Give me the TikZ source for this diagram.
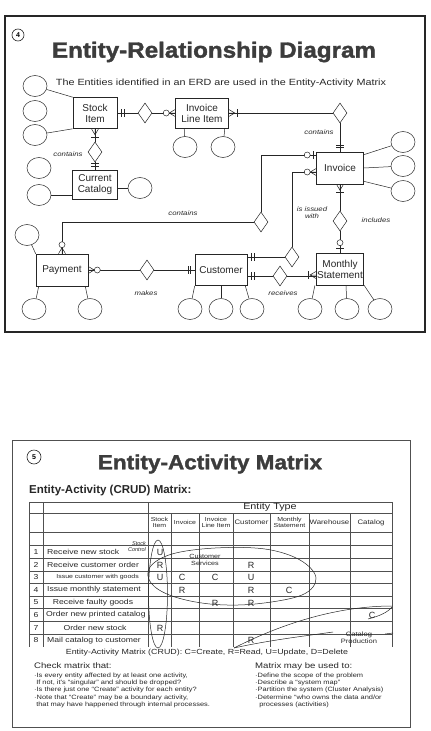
\documentclass[tikz,border=0pt]{standalone}
\usepackage{fontspec}
\setmainfont{Liberation Sans}
\newfontfamily\titlefont{Liberation Sans}[BoldFeatures={FakeStretch=1.1,FakeBold=1.6}]
\newfontfamily\widefont{Liberation Sans}[FakeStretch=1.2]
\usepackage{tikz}
\usetikzlibrary{
    arrows.meta,
    positioning,
    shapes.geometric,
    calc
}
\definecolor{inkc}{HTML}{262626}
\definecolor{gridc}{HTML}{505050}
\tikzset{
    crowfoot/.pic={\draw[line width=0.5pt, inkc] (0,-3.5) -- (6,0) -- (0,3.5) (0,0) -- (6,0);},
    onebar/.pic={\draw[line width=0.5pt, inkc] (0,-4) -- (0,4);},
    zerocirc/.pic={\draw[line width=0.5pt, inkc, fill=white] (0,0) circle (3);}
}

\begin{document}
\begin{tikzpicture}[x=1pt, y=-1pt,
    entity/.style={draw=inkc, line width=0.6pt, align=center, inner sep=1pt, text=inkc, font=\fontsize{10}{11}\selectfont},
    attr/.style={ellipse, draw=inkc, line width=0.5pt, minimum width=24pt, minimum height=21pt, inner sep=0pt},
    rel/.style={diamond, draw=inkc, line width=0.5pt, fill=white, minimum width=14pt, minimum height=20pt, inner sep=0pt},
    conn/.style={draw=inkc, line width=0.5pt},
    rlabel/.style={font=\widefont\fontsize{6.5}{7}\selectfont\itshape, text=inkc, align=center, inner sep=0pt},
    numc/.style={circle, draw=inkc, line width=0.6pt, inner sep=0pt, font=\fontsize{7}{7}\selectfont\bfseries},
    cell/.style={font=\fontsize{9}{9}\selectfont, text=inkc, inner sep=0pt},
    acttxt/.style={font=\widefont\fontsize{7.2}{8}\selectfont, text=inkc, inner sep=0pt},
    headtxt/.style={font=\widefont\fontsize{5.8}{6.5}\selectfont, text=inkc, align=center, inner sep=0pt},
    grid/.style={draw=gridc, line width=0.5pt},
    hand/.style={draw=inkc, line width=0.5pt},
    note/.style={font=\widefont\fontsize{6.2}{7.1}\selectfont, text=inkc, align=left, inner sep=0pt},
]
\useasboundingbox (0,0) rectangle (431,731);

    % ---- slide 4: ERD ----
    \draw[inkc, line width=1.8pt] (5,16) rectangle (425,332);
    \node[numc, minimum size=12pt] (n4) at (18,35) {4};
    \node[font=\titlefont\bfseries\fontsize{22}{22}\selectfont, text=inkc!90] (t4) at (214,52) {Entity-Relationship Diagram};
    \node[font=\widefont\fontsize{9}{9}\selectfont, text=inkc] (s4) at (221,83) {The Entities identified in an ERD are used in the Entity-Activity Matrix};

    % entities
    \node[entity, minimum width=44pt, minimum height=31pt] (si) at (95,113) {Stock\\Item};
    \node[entity, minimum width=53pt, minimum height=30pt] (ili) at (202,113) {Invoice\\Line Item};
    \node[entity, minimum width=47pt, minimum height=32pt] (inv) at (340,168) {Invoice};
    \node[entity, minimum width=45pt, minimum height=29pt] (cc) at (95,185) {Current\\Catalog};
    \node[entity, minimum width=52pt, minimum height=32pt] (pay) at (62,270) {Payment};
    \node[entity, minimum width=52pt, minimum height=31pt] (cust) at (221,270) {Customer};
    \node[entity, minimum width=47pt, minimum height=32pt] (ms) at (340,269) {Monthly\\Statement};

    % attributes
    \node[attr] (siA) at (35,86) {};
    \node[attr] (siB) at (35,111) {};
    \node[attr] (siC) at (35,135) {};
    \node[attr] (iliA) at (185,147) {};
    \node[attr] (iliB) at (223,147) {};
    \node[attr] (invA) at (403,142) {};
    \node[attr] (invB) at (403,166) {};
    \node[attr] (invC) at (403,191) {};
    \node[attr] (ccA) at (39,168) {};
    \node[attr] (ccB) at (39,195) {};
    \node[attr] (ccC) at (140,188) {};
    \node[attr] (payA) at (27,235) {};
    \node[attr] (payB) at (34,309) {};
    \node[attr] (payC) at (90,309) {};
    \node[attr] (custA) at (190,309) {};
    \node[attr] (custB) at (221,309) {};
    \node[attr] (custC) at (252,309) {};
    \node[attr] (msA) at (310,309) {};
    \node[attr] (msB) at (347,309) {};
    \node[attr] (msC) at (380,309) {};

    \draw[conn] (siA) -- (si.north west);
    \draw[conn] (siC) -- (si.south west);
    \draw[conn] ($(ili.south west)+(9,0)$) -- (iliA);
    \draw[conn] ($(ili.south east)+(-4,0)$) -- (iliB);
    \draw[conn] ($(inv.north east)+(0,3)$) -- (invA);
    \draw[conn] (inv.east) -- (invB);
    \draw[conn] ($(inv.south east)+(0,-3)$) -- (invC);
    \draw[conn] (ccB) -- (ccB -| cc.west);
    \draw[conn] (ccC) -- (ccC -| cc.east);
    \draw[conn] (payA) -- (pay.north west);
    \draw[conn] ($(pay.south west)+(3,0)$) -- (payB);
    \draw[conn] ($(pay.south east)+(-3,0)$) -- (payC);
    \draw[conn] (cust.south west) -- (custA);
    \draw[conn] (cust.south) -- (custB);
    \draw[conn] ($(cust.south east)+(-2,0)$) -- (custC);
    \draw[conn] ($(ms.south west)+(-1,0)$) -- (msA);
    \draw[conn] ($(ms.south)+(6,0)$) -- (msB);
    \draw[conn] (ms.south east) -- (msC);

    % relationships
    \node[rel] (dSI) at (145,113) {};
    \node[rel] (dInv) at (340,113) {};
    \node[rel] (dCat) at (95,152) {};
    \node[rel] (dPay) at (261,222) {};
    \node[rel] (dIss) at (292,257) {};
    \node[rel] (dInc) at (340,221) {};
    \node[rel] (dRec) at (280,276) {};
    \node[rel] (dMak) at (147,270) {};

    \draw[conn] (si.east) -- (dSI.west);
    \draw[conn] (dSI.east) -- (ili.west);
    \draw[conn] (ili.east) -- (dInv.west);
    \draw[conn] (dInv.south) -- (inv.north);
    \draw[conn] (si.south) -- (dCat.north);
    \draw[conn] (dCat.south) -- (cc.north);
    \draw[conn] ($(inv.west)+(0,-13)$) -| (dPay.north);
    \draw[conn] (dPay.west) -| (pay.north);
    \draw[conn] ($(inv.west)+(0,4)$) -| (dIss.north);
    \draw[conn] (dIss.west) -- (dIss.west -| cust.east);
    \draw[conn] (inv.south) -- (dInc.north);
    \draw[conn] (dInc.south) -- (ms.north);
    \draw[conn] ($(cust.east)+(0,6)$) -- (dRec.west);
    \draw[conn] (dRec.east) -- (dRec.east -| ms.west);
    \draw[conn] (pay.east) -- (dMak.west);
    \draw[conn] (dMak.east) -- (cust.west);

    % cardinality marks
    \pic at ($(si.east)+(4,0)$) {onebar};
    \pic at ($(si.east)+(6.5,0)$) {onebar};
    \pic[rotate=180] at (ili.west) {crowfoot};
    \pic at ($(ili.west)+(-9,0)$) {zerocirc};
    \pic at (ili.east) {crowfoot};
    \pic at ($(ili.east)+(8,0)$) {onebar};
    \pic[rotate=90] at ($(inv.north)+(0,-4)$) {onebar};
    \pic[rotate=90] at ($(inv.north)+(0,-6.5)$) {onebar};
    \pic[rotate=-90] at (si.south) {crowfoot};
    \pic[rotate=90] at ($(si.south)+(0,8)$) {onebar};
    \pic[rotate=90] at ($(cc.north)+(0,-4)$) {onebar};
    \pic[rotate=90] at ($(cc.north)+(0,-6.5)$) {onebar};
    \pic at ($(inv.west)+(-3,-13)$) {onebar};
    \pic at ($(inv.west)+(-9,-13)$) {zerocirc};
    \pic[rotate=180] at ($(inv.west)+(0,4)$) {crowfoot};
    \pic at ($(inv.west)+(-9,4)$) {zerocirc};
    \pic[rotate=90] at (pay.north) {crowfoot};
    \pic at ($(pay.north)+(0,-9)$) {zerocirc};
    \pic at ($(dIss.west -| cust.east)+(4,0)$) {onebar};
    \pic at ($(dIss.west -| cust.east)+(6.5,0)$) {onebar};
    \pic[rotate=-90] at (inv.south) {crowfoot};
    \pic[rotate=90] at ($(inv.south)+(0,8)$) {onebar};
    \pic[rotate=90] at ($(ms.north)+(0,-4)$) {onebar};
    \pic at ($(ms.north)+(0,-10)$) {zerocirc};
    \pic at ($(cust.east)+(4,6)$) {onebar};
    \pic at ($(cust.east)+(6.5,6)$) {onebar};
    \pic[rotate=180] at ($(ms.west)+(0,6)$) {crowfoot};
    \pic at ($(ms.west)+(-8,6)$) {onebar};
    \pic at (pay.east) {crowfoot};
    \pic at ($(pay.east)+(9,0)$) {zerocirc};
    \pic at ($(cust.west)+(-4,0)$) {onebar};
    \pic at ($(cust.west)+(-6.5,0)$) {onebar};

    % relationship names
    \node[rlabel] (lInv) at (319,132) {contains};
    \node[rlabel] (lCat) at (68,154) {contains};
    \node[rlabel] (lPay) at (183,213) {contains};
    \node[rlabel] (lIss) at (312,213) {is issued\\with};
    \node[rlabel] (lInc) at (376,220) {includes};
    \node[rlabel] (lRec) at (283,293) {receives};
    \node[rlabel] (lMak) at (146,293) {makes};

    % ---- slide 5: CRUD matrix ----
    \draw[gridc, line width=0.8pt] (12,440) rectangle (410,727);
    \node[numc, minimum size=14pt] (n5) at (34,457) {5};
    \node[font=\titlefont\bfseries\fontsize{20.5}{21}\selectfont, text=inkc!90] (t5) at (210,464) {Entity-Activity Matrix};
    \node[font=\bfseries\fontsize{11.5}{12}\selectfont, text=inkc, anchor=west, inner sep=0pt] (s5) at (29,491) {Entity-Activity (CRUD) Matrix:};

    % grid
    \foreach \y in {502,513,532} \draw[grid] (29,\y) -- (392,\y);
    \foreach \k in {0,...,7} \draw[grid] (29,{545.7+12.6*\k}) -- (392,{545.7+12.6*\k});
    \foreach \x in {29,43,148,392} \draw[grid] (\x,502) -- (\x,647);
    \foreach \x in {171,199,233,270,309,350} \draw[grid] (\x,513) -- (\x,647);

    \node[font=\widefont\fontsize{9}{10}\selectfont, text=inkc, inner sep=0pt] (etype) at (270,507.5) {Entity Type};
    \foreach \x/\h [count=\i] in {159.5/Stock\\Item, 185/Invoice, 216/Invoice\\Line Item, 251.5/{\fontsize{6.5}{7}\selectfont Customer}, 289.5/Monthly\\Statement, 329.5/{\fontsize{6.5}{7}\selectfont Warehouse}, 371/{\fontsize{6.5}{7}\selectfont Catalog}}
        \node[headtxt] (h\i) at (\x,522.5) {\h};

    \foreach \k/\act/\ax/\an in {1/Receive new stock/47/west, 2/Receive customer order/47/west, 3/{\fontsize{5.8}{6}\selectfont Issue customer with goods}/139/east, 4/Issue monthly statement/47/west, 5/Receive faulty goods/93/center, 6/Order new printed catalog/46/west, 7/Order new stock/95/center, 8/Mail catalog to customer/47/west}
    {
        \node[acttxt] (no\k) at (36,{552+12.6*(\k-1)}) {\k};
        \node[acttxt, anchor=\an] (act\k) at (\ax,{552+12.6*(\k-1)}) {\act};
    }

    \foreach \r/\x/\v [count=\i] in {1/160/U, 2/160/R, 2/251/R, 3/160/U, 3/182/C, 3/215/C, 3/251/U, 4/182/R, 4/251/R, 4/289/C, 5/215/R, 5/251/R, 6/372/C, 7/160/R, 8/251/R}
        \node[cell] (e\i) at (\x,{552.5+12.6*(\r-1)}) {\v};

    % groupings drawn by hand
    \node[font=\fontsize{5.5}{6}\selectfont\itshape, text=inkc, align=right, inner sep=0pt] (gStock) at (137,546.5) {Stock\\Control};
    \draw[hand] (158,594) ellipse [x radius=9.5, y radius=54];
    \node[font=\widefont\fontsize{6}{6.8}\selectfont, text=inkc, align=center, inner sep=0pt] (gCust) at (205,560) {Customer\\Services};
    \draw[hand] plot[smooth cycle, tension=0.6] coordinates {(150,567) (172,554) (215,548) (265,549) (300,560) (316,578) (302,595) (255,604) (210,604) (172,596) (151,583)};
    \node[font=\widefont\fontsize{6.3}{7.5}\selectfont, text=inkc, align=center, inner sep=0pt] (gCat) at (359,637.5) {Catalog\\Production};
    \draw[hand] (392,606) .. controls (340,606) and (285,622) .. (234,648);
    \draw[hand] (234,648) .. controls (270,640) and (305,636) .. (333,632);
    \draw[hand] (392,607) .. controls (388,612) and (380,616) .. (368,619);
    \draw[hand] (385,634) -- (393,633);

    % legend and notes
    \node[font=\widefont\fontsize{7.4}{8}\selectfont, text=inkc, inner sep=0pt] (legend) at (207,653) {Entity-Activity Matrix (CRUD): C=Create, R=Read, U=Update, D=Delete};
    \node[font=\widefont\fontsize{8}{9}\selectfont, text=inkc, anchor=west, inner sep=0pt] (chk) at (34,666) {Check matrix that:};
    \node[note, anchor=north west] (chkList) at (34,673) {·Is every entity affected by at least one activity,\\
        \ If not, it's “singular” and should be dropped?\\
        ·Is there just one “Create” activity for each entity?\\
        ·Note that “Create” may be a boundary activity,\\
        \ that may have happened through internal processes.};
    \node[font=\widefont\fontsize{8}{9}\selectfont, text=inkc, anchor=west, inner sep=0pt] (use) at (255,666) {Matrix may be used to:};
    \node[note, anchor=north west] (useList) at (255,673) {·Define the scope of the problem\\
        ·Describe a “system map”\\
        ·Partition the system (Cluster Analysis)\\
        ·Determine “who owns the data and/or\\
        \ \ processes (activities)};
\end{tikzpicture}
\end{document}
